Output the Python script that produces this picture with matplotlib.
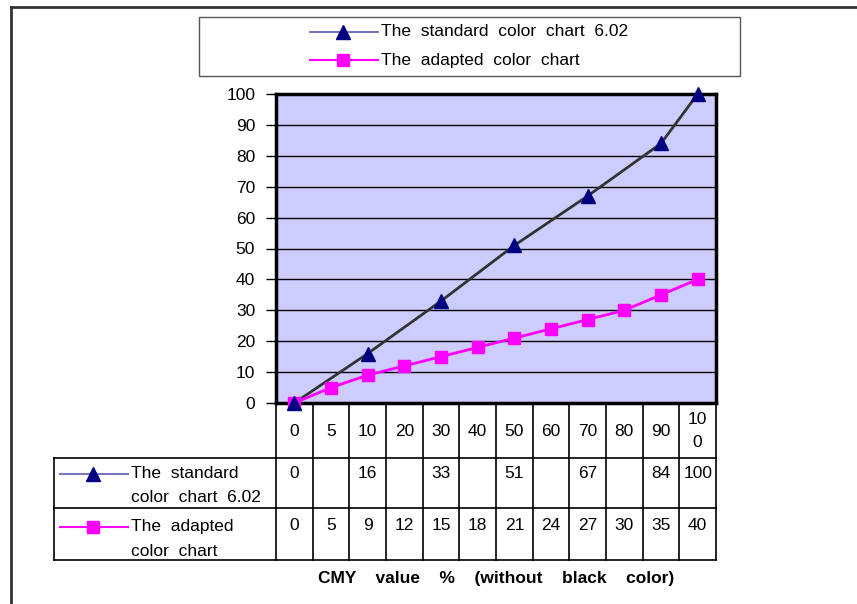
import matplotlib.pyplot as plt
import numpy as np

plt.rcParams['font.family'] = ['Liberation Sans', 'DejaVu Sans']

cmy = ['0', '5', '10', '20', '30', '40', '50', '60', '70', '80', '90', '100']
standard = [0, None, 16, None, 33, None, 51, None, 67, None, 84, 100]
adapted = [0, 5, 9, 12, 15, 18, 21, 24, 27, 30, 35, 40]
name_std = 'The  standard  color  chart  6.02'
name_adp = 'The  adapted  color  chart'
xlabel = 'CMY    value    %    (without    black    color)'

FS = 12.5
W, H = 857, 604
fig = plt.figure(figsize=(W / 100, H / 100), dpi=100)

# overlay in pixel coords for frame / legend / table layout
ov = fig.add_axes([0, 0, 1, 1])
ov.set_xlim(0, W)
ov.set_ylim(H, 0)
ov.axis('off')

def px(x0, y0, x1, y1):
    return [x0 / W, 1 - y1 / H, (x1 - x0) / W, (y1 - y0) / H]

# main plot
L, R, T, B = 276, 716, 94, 403
ax = fig.add_axes(px(L, T, R, B))
ax.set_facecolor('#ccccff')
x = np.arange(len(cmy))
xs = [i for i, v in enumerate(standard) if v is not None]
ys = [v for v in standard if v is not None]
ax.plot(xs, ys, color='#333333', lw=2, zorder=3)
ax.plot(xs, ys, ls='none', marker='^', ms=10, color='#000080', zorder=4, clip_on=False)
ax.plot(x, adapted, color='#ff00ff', lw=2, marker='s', ms=9, zorder=3, clip_on=False)
ax.set_xlim(-0.5, len(cmy) - 0.5)
ax.set_ylim(0, 100)
ax.set_yticks(range(0, 101, 10))
ax.yaxis.grid(True, color='black', lw=1)
ax.set_axisbelow(True)
ax.set_xticks([])
ax.tick_params(axis='y', length=7, width=1, labelsize=FS, pad=8)
for s in ax.spines.values():
    s.set_linewidth(2.5)

# outer frame
ov.plot([11, W], [7, 7], color='#333333', lw=2)
ov.plot([11, 11], [7, H], color='#333333', lw=2)

# legend box
ov.add_patch(plt.Rectangle((199, 17), 541, 59, fill=False, ec='#555555', lw=1))
ov.plot([310, 378], [32, 32], color='#7777bb', lw=1.5)
ov.plot([343], [32], marker='^', ms=10, color='#000080')
ov.text(381, 32, name_std, fontsize=FS, va='center')
ov.plot([310, 378], [60, 60], color='#ff00ff', lw=1.5)
ov.plot([343], [60], marker='s', ms=8, color='#ff00ff')
ov.text(381, 60, name_adp, fontsize=FS, va='center')

# data table
r0, r1, r2, r3 = B, 458, 508, 560
colw = (R - L) / len(cmy)
for i in range(len(cmy) + 1):
    xx = L + i * colw
    ov.plot([xx, xx], [r0, r3], color='black', lw=1.2)
for yy in (r1, r2, r3):
    ov.plot([54, R], [yy, yy], color='black', lw=1.2)
ov.plot([54, 54], [r1, r3], color='black', lw=1.2)

for i, c in enumerate(cmy):
    cx = L + (i + 0.5) * colw
    lab = c if len(c) < 3 else c[:2] + '\n' + c[2:]
    ov.text(cx, 431, lab, fontsize=FS, ha='center', va='center', linespacing=1.7)
    if standard[i] is not None:
        ov.text(cx, 473, str(standard[i]), fontsize=FS, ha='center', va='center')
    ov.text(cx, 526, str(adapted[i]), fontsize=FS, ha='center', va='center')

ov.plot([60, 128], [474, 474], color='#7777bb', lw=1.5)
ov.plot([93], [474], marker='^', ms=10, color='#000080')
ov.text(131, 474, 'The  standard', fontsize=FS, va='center')
ov.text(131, 498, 'color  chart  6.02', fontsize=FS, va='center')
ov.plot([60, 128], [527, 527], color='#ff00ff', lw=1.5)
ov.plot([93], [527], marker='s', ms=8, color='#ff00ff')
ov.text(131, 527, 'The  adapted', fontsize=FS, va='center')
ov.text(131, 551, 'color  chart', fontsize=FS, va='center')

ov.text(496, 578, xlabel, fontsize=FS, fontweight='bold', ha='center', va='center')

fig.savefig('out.png', dpi=100)
